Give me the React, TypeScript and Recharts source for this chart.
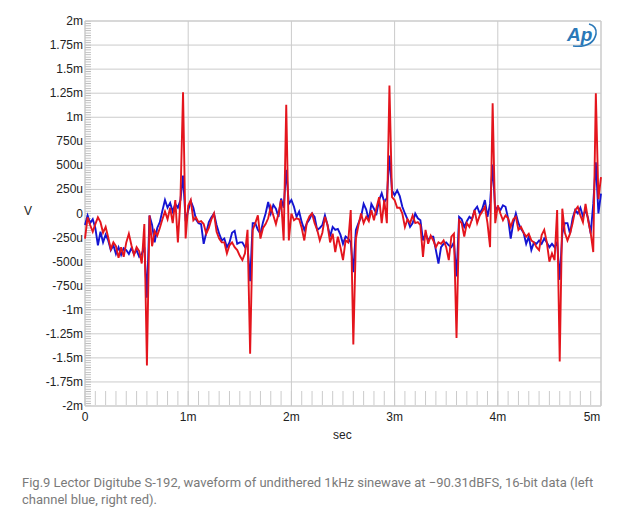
import React from "react";
import {
  LineChart,
  Line,
  XAxis,
  YAxis,
  CartesianGrid,
  ReferenceArea,
} from "recharts";

// sample spacing in ms
const STEP_MS = 0.025;

// left channel (blue), microvolts
const LEFT_UV = [
  -120, -20, -100, -60, -150, -330, -190, -300, -220, -280, -380, -330, -420, -350, -430, -360, -380, -420, -360, -420,
  -380, -450, -420, -350, -876, -20, -120, -300, -150, -90, 30, 140, 60, 110, 20, 100, 60, 140, 395, -80,
  30, 130, 60, -60, -100, -110, -315, -200, -90, -40, 0, -120, -210, -280, -260, -350, -300, -200, -180, -315,
  -300, -300, -350, -330, -703, -100, -100, -170, -210, -90, 0, 120, 0, 90, 50, -35, 155, 60, 454, 100,
  140, 70, -35, 20, -90, -170, -100, -60, 0, -35, -170, -150, -120, -20, -120, -240, -140, -170, -160, -220,
  -315, -240, -260, -300, -610, -170, -100, -35, 100, 40, -70, 100, 50, 0, 140, 210, 120, 160, 603, 240,
  190, 240, 180, 70, 0, -60, -140, -100, 0, -50, -70, -280, -210, -280, -240, -240, -380, -520, -350, -315,
  -300, -330, -350, -300, -655, -35, -60, -140, -80, -35, -60, 35, 70, 0, 50, 140, -35, 100, 509, 35,
  70, 35, 85, 70, -50, -260, -100, 0, -100, -160, -200, -315, -240, -380, -300, -315, -280, -315, -260, -300,
  -350, -315, -350, -300, -689, -210, -100, -100, -210, -50, 35, 0, 60, -30, 35, -50, -210, 100, 533, 0,
  207,
];

// right channel (red), microvolts
const RIGHT_UV = [
  -260, -40, -120, -190, -110, -40, -90, -200, -140, -250, -370, -300, -340, -460, -350, -450, -300, -210, -330, -430,
  -350, -390, -520, -110, -1580, -20, -340, -180, -230, -150, -60, 20, -60, 60, -100, 140, -300, 150, 1260, -260,
  80, 140, -70, -40, -90, -80, -110, -210, -150, -60, 0, -190, -260, -300, -300, -415, -330, -300, -350, -380,
  -440, -485, -415, -170, -1458, -170, -100, -20, -260, -150, -110, -50, 70, -20, -110, 0, 140, -280, 1130, -280,
  0, -70, -50, -60, -150, -280, -90, -30, 0, -100, -170, -280, -200, -35, -120, -300, -210, -400, -240, -350,
  -485, -280, -300, 35, -1361, -260, -120, 0, -100, -35, -80, 35, -70, 60, 170, -100, 140, -100, 1330, 170,
  140, 60, 60, 0, -140, -60, -100, -20, -100, -90, -120, -450, -170, -315, -230, -280, -350, -300, -315, -280,
  -350, -485, -240, -210, -1292, -70, -100, -240, -100, -140, -60, 35, -100, -20, 20, 70, -100, -350, 1146, -100,
  85, 0, -70, -20, -50, -140, -60, -35, -170, -140, -200, -240, -210, -280, -300, -350, -380, -225, -170, -300,
  -500, -415, -485, 35, -1538, 50, -200, -280, -210, -100, 35, 70, -20, -90, 100, -70, -200, -400, 1250, 150,
  377,
];

const X_TICKS = [0, 1, 2, 3, 4, 5];
const Y_TICKS = [-2000, -1750, -1500, -1250, -1000, -750, -500, -250, 0, 250, 500, 750, 1000, 1250, 1500, 1750, 2000];
const X_MINOR = Array.from({ length: 51 }, (_, i) => i / 10);

const CAPTION =
  "Fig.9 Lector Digitube S-192, waveform of undithered 1kHz sinewave at \u221290.31dBFS, 16-bit data (left channel blue, right red).";

const data = LEFT_UV.map((v, i) => ({
  t: +(i * STEP_MS).toFixed(3),
  left: v,
  right: RIGHT_UV[i],
}));

const AXIS_FONT = "'Liberation Sans', Arial, sans-serif";
const GRID = "#cbcbcb";

// plot box, used for the minor-tick hatch on the y axis (25u steps)
const PLOT_TOP = 21;
const PLOT_H = 385;
const Y_MINOR_STEP_PX = PLOT_H / 160;

function fmtVolts(v: number) {
  if (v === 0) return "0";
  if (Math.abs(v) >= 1000) return `${v / 1000}m`;
  return `${v}u`;
}

const XLabel = ({ x, y, payload }: any) => {
  const v = payload.value;
  const shift = v === 5 ? -9 : 0;
  return (
    <text x={x + shift} y={y} dy={14} textAnchor="middle" fontSize={12} fontFamily={AXIS_FONT} fill="#222">
      {v === 0 ? "0" : `${v}m`}
    </text>
  );
};

const YLabel = ({ x, y, payload }: any) => (
  <text x={x - 2} y={y} dy={4} textAnchor="end" fontSize={12} fontFamily={AXIS_FONT} fill="#222">
    {fmtVolts(payload.value)}
  </text>
);

// minor ticks are drawn inward, into the plot
const XMinor = ({ x, y }: any) => (
  <line x1={x} x2={x} y1={y - 1} y2={y - 15} stroke={GRID} strokeWidth={1} />
);

function ApLogo() {
  return (
    <svg width={40} height={30} style={{ position: "absolute", left: 563, top: 20 }}>
      <text x={4} y={21} fontSize={19} fontStyle="italic" fontWeight="bold" fontFamily={AXIS_FONT} fill="#2a78b8">
        Ap
      </text>
      <path d="M 10 26 Q 30 28 33 14 Q 34 6 26 4" fill="none" stroke="#2a78b8" strokeWidth={1.6} />
    </svg>
  );
}

export default function App() {
  return (
    <div style={{ position: "absolute", left: 0, top: 0, width: 643, height: 521, background: "#fff" }}>
      <svg width={0} height={0} style={{ position: "absolute" }}>
        <defs>
          <pattern
            id="yMinorHatch"
            patternUnits="userSpaceOnUse"
            x={0}
            y={PLOT_TOP - 0.4}
            width={10}
            height={Y_MINOR_STEP_PX}
          >
            <rect x={0} y={0} width={10} height={0.9} fill="#b8b8b8" />
          </pattern>
        </defs>
      </svg>
      <LineChart width={643} height={440} data={data} margin={{ top: PLOT_TOP, right: 42, left: 0, bottom: 3 }}>
        <XAxis
          xAxisId="outer"
          dataKey="t"
          type="number"
          domain={[0, 5]}
          ticks={X_TICKS}
          interval={0}
          height={30}
          tickSize={0}
          tickMargin={0}
          axisLine={false}
          tickLine={false}
          tick={<XLabel />}
        />
        <XAxis
          xAxisId="inner"
          dataKey="t"
          type="number"
          domain={[0, 5]}
          ticks={X_MINOR}
          interval={0}
          height={1}
          tickSize={0}
          tickMargin={0}
          axisLine={false}
          tickLine={false}
          tick={<XMinor />}
        />
        <YAxis
          yAxisId="outer"
          type="number"
          domain={[-2000, 2000]}
          ticks={Y_TICKS}
          interval={0}
          width={85}
          tickSize={0}
          tickMargin={0}
          axisLine={false}
          tickLine={false}
          tick={<YLabel />}
        />
        <CartesianGrid xAxisId="outer" yAxisId="outer" stroke={GRID} />
        <ReferenceArea
          xAxisId="outer"
          yAxisId="outer"
          x1={0}
          x2={0.058}
          y1={-2000}
          y2={2000}
          fill="url(#yMinorHatch)"
          fillOpacity={1}
          stroke="none"
        />
        <ReferenceArea
          xAxisId="outer"
          yAxisId="outer"
          x1={0}
          x2={5}
          y1={-2000}
          y2={2000}
          fill="none"
          stroke={GRID}
        />
        <Line
          xAxisId="outer"
          yAxisId="outer"
          dataKey="left"
          stroke="#1414d2"
          strokeWidth={1.9}
          dot={false}
          type="linear"
          isAnimationActive={false}
        />
        <Line
          xAxisId="outer"
          yAxisId="outer"
          dataKey="right"
          stroke="#e4151d"
          strokeWidth={1.9}
          dot={false}
          type="linear"
          isAnimationActive={false}
        />
      </LineChart>
      <div style={{ position: "absolute", left: 24, top: 204, fontFamily: AXIS_FONT, fontSize: 12, color: "#222" }}>V</div>
      <div style={{ position: "absolute", left: 333, top: 428, fontFamily: AXIS_FONT, fontSize: 12, color: "#222" }}>sec</div>
      <ApLogo />
      <div
        style={{
          position: "absolute",
          left: 22,
          top: 474,
          width: 590,
          fontFamily: "Roboto, sans-serif",
          fontSize: 13,
          lineHeight: "17px",
          color: "#7a7a7a",
        }}
      >
        {CAPTION}
      </div>
    </div>
  );
}
